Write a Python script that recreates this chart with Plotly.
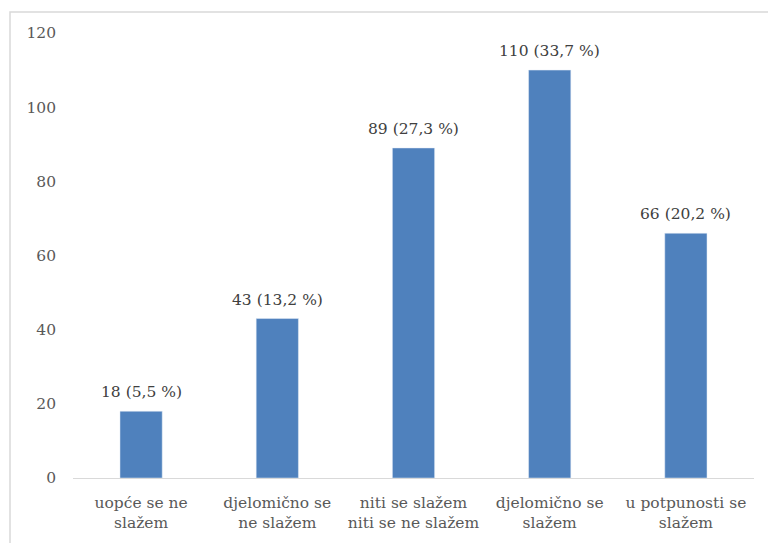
import plotly.graph_objects as go

categories = ["uopće se ne<br>slažem", "djelomično se<br>ne slažem", "niti se slažem<br>niti se ne slažem",
              "djelomično se<br>slažem", "u potpunosti se<br>slažem"]
counts = [18, 43, 89, 110, 66]
percents = ["5,5", "13,2", "27,3", "33,7", "20,2"]
labels = [f"{c} ({p} %)" for c, p in zip(counts, percents)]

FONT = "DejaVu Serif"

fig = go.Figure(go.Bar(
    x=categories, y=counts, cliponaxis=False,
    marker_color="#4f81bd", width=0.31,
))

for cat, val, lab in zip(categories, counts, labels):
    fig.add_annotation(x=cat, y=val, text=lab, showarrow=False, yanchor="bottom",
                       yshift=8, font=dict(family=FONT, size=15.5, color="#404040"))

fig.update_layout(
    width=768, height=543,
    margin=dict(l=73, r=14, t=33, b=65),
    plot_bgcolor="white", paper_bgcolor="white",
    showlegend=False,
    font=dict(family=FONT, size=15, color="#595959"),
    xaxis=dict(showline=True, linecolor="#d9d9d9", linewidth=1, showgrid=False,
               ticklabelstandoff=10,
               tickfont=dict(family=FONT, size=15.5, color="#595959")),
    yaxis=dict(range=[0, 120], dtick=20, showgrid=False, zeroline=False, showline=False,
               ticklabelstandoff=16,
               tickfont=dict(family=FONT, size=15.5, color="#595959")),
    shapes=[dict(type="rect", xref="paper", yref="paper",
                 x0=(10 - 73) / 681, x1=1.2, y0=-0.3, y1=1 + (33 - 12) / 445,
                 line=dict(color="#d9d9d9", width=1.5), layer="below")],
)

fig.write_html("out.html", config={"displayModeBar": False},
               post_script="document.body.style.margin='0';document.body.style.overflow='hidden';")
